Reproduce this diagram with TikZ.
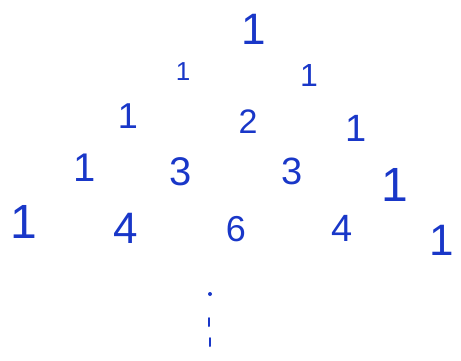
\documentclass[tikz,border=0pt]{standalone}
\usepackage{fontspec}
\setmainfont{Liberation Sans}
\definecolor{ink}{RGB}{25,55,200}
\begin{document}
\begin{tikzpicture}[x=1pt,y=-1pt,
  num/.style={text=ink,inner sep=0pt,font=\fontsize{#1}{#1}\selectfont},
  num/.default=40,
  tick/.style={draw=ink,line width=2pt,line cap=round}]
\useasboundingbox (0,0) rectangle (461,360);
% row 0
\node[num=44] (r0a) at (254,29) {1};
% row 1
\node[num=26] (r1a) at (183,72) {1};
\node[num=32] (r1b) at (309,75) {1};
% row 2
\node[num=36] (r2a) at (128,116) {1};
\node[num=34] (r2b) at (248,122) {2};
\node[num=38] (r2c) at (356,128) {1};
% row 3
\node[num=40] (r3a) at (85,168) {1};
\node[num=40] (r3b) at (181,172) {3};
\node[num=38] (r3c) at (292,171) {3};
\node[num=48] (r3d) at (395,185) {1};
% row 4
\node[num=48] (r4a) at (24,222) {1};
\node[num=44] (r4b) at (126,228) {4};
\node[num=36] (r4c) at (236,229) {6};
\node[num=38] (r4d) at (342,228) {4};
\node[num=44] (r4e) at (442,240) {1};
% dots
\coordinate (d1) at (210,294);
\coordinate (d2a) at (209,318);
\coordinate (d2b) at (209,326);
\coordinate (d3a) at (210,338);
\coordinate (d3b) at (210,346);
\fill[ink] (d1) circle (2);
\draw[tick] (d2a) -- (d2b);
\draw[tick] (d3a) -- (d3b);
\end{tikzpicture}
\end{document}
